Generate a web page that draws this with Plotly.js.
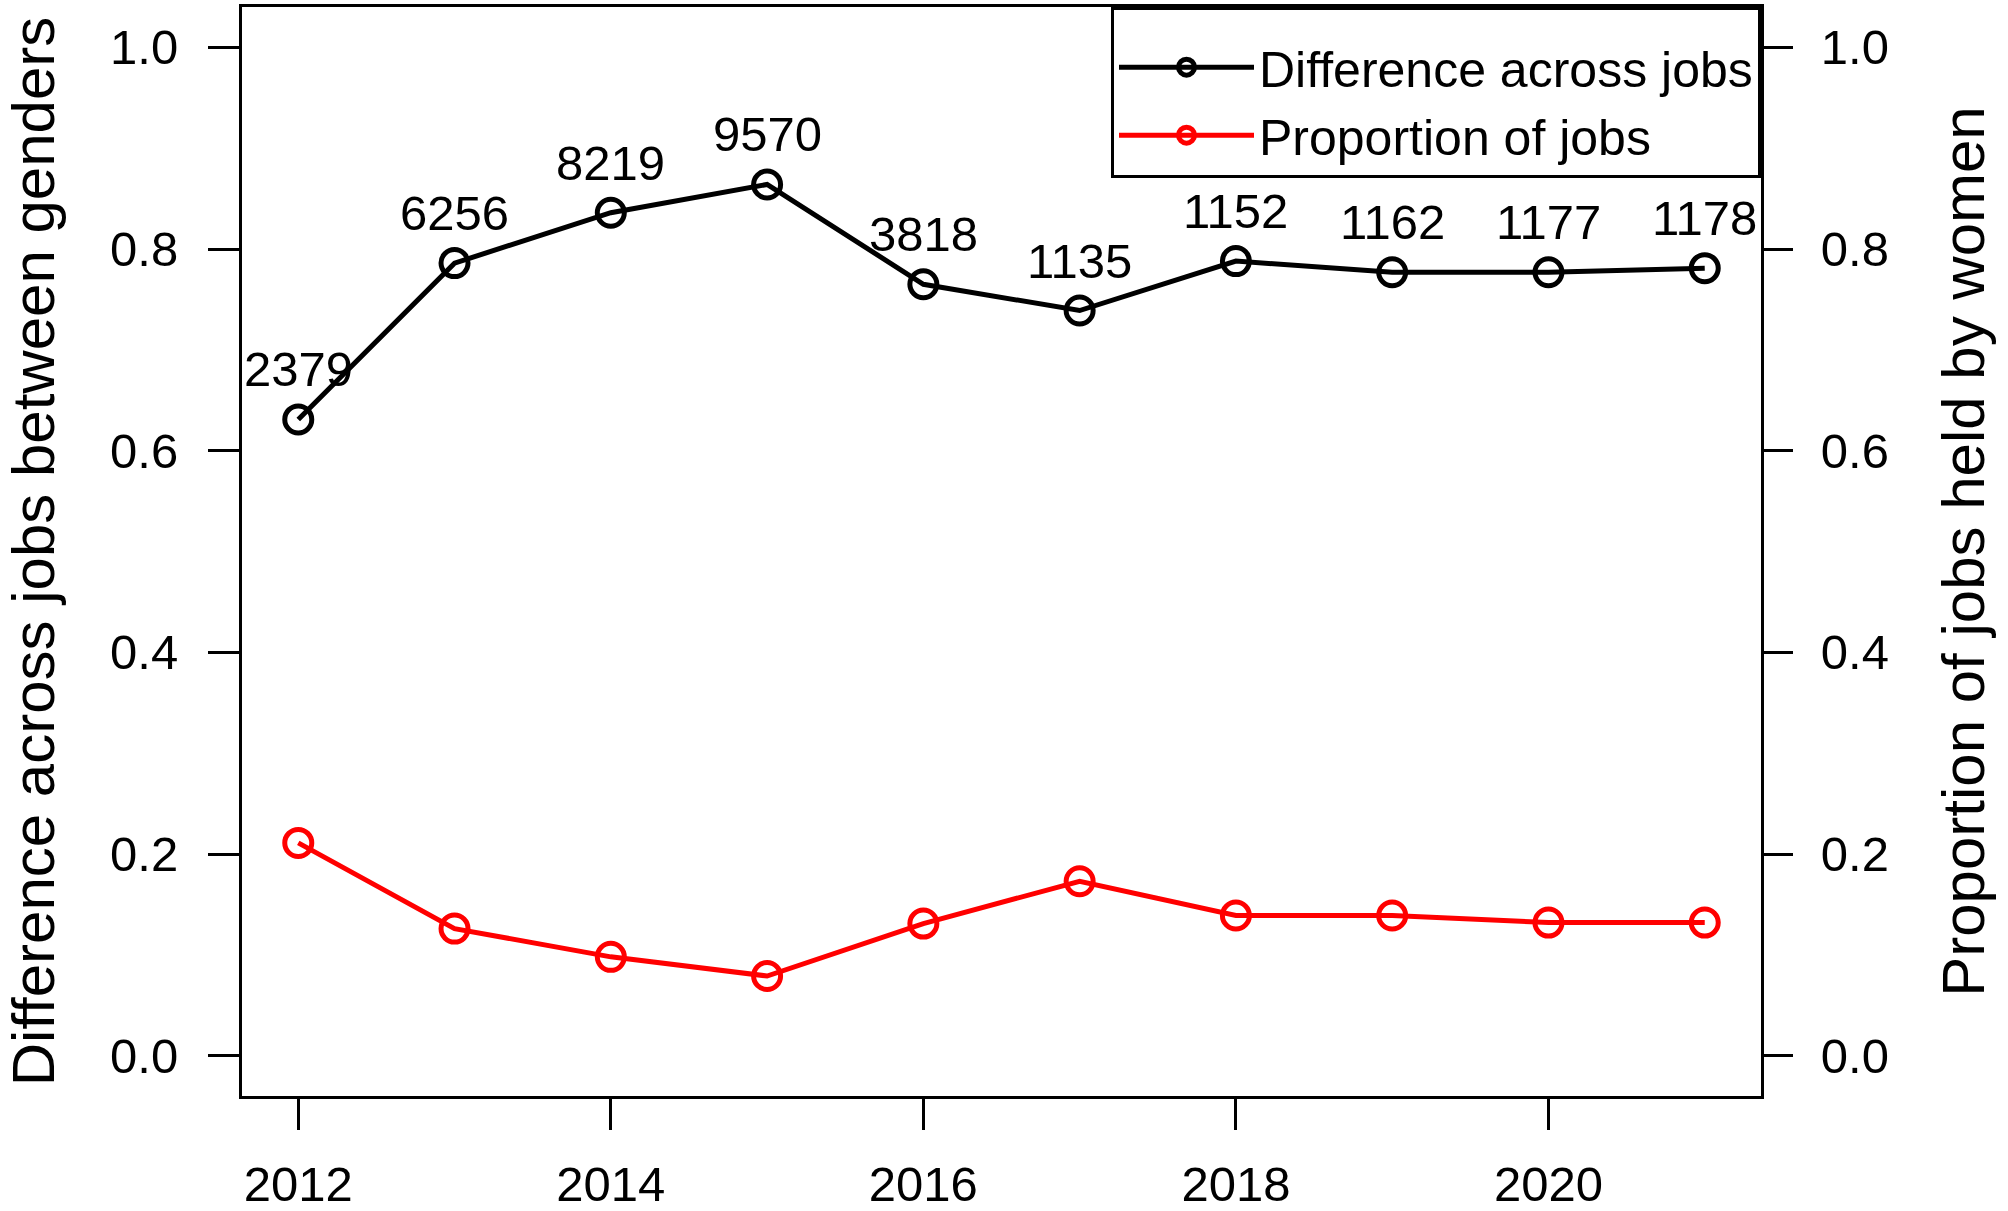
<!DOCTYPE html>
<html>
<head>
<meta charset="utf-8">
<script src="https://cdn.plot.ly/plotly-3.0.1.min.js"></script>
<style>
  html, body { margin: 0; padding: 0; background: #ffffff; }
  #chart { width: 2008px; height: 1211px; }
</style>
</head>
<body>
<div id="chart"></div>
<script>
// values
const years = [2012, 2013, 2014, 2015, 2016, 2017, 2018, 2019, 2020, 2021];
const diffAcrossJobs = [0.631, 0.786, 0.836, 0.864, 0.765, 0.739, 0.788, 0.777, 0.777, 0.781];
const propWomen = [0.211, 0.126, 0.098, 0.079, 0.131, 0.173, 0.139, 0.139, 0.132, 0.132];
const jobCounts = ['2379', '6256', '8219', '9570', '3818', '1135', '1152', '1162', '1177', '1178'];
const yTicks = [0, 0.2, 0.4, 0.6, 0.8, 1.0];
const xTicks = [2012, 2014, 2016, 2018, 2020];

const FONT = 'Liberation Sans, Arial, sans-serif';
const tickFont = { family: FONT, size: 49, color: '#000000' };

function lineTrace(name, y, color, axis) {
    return {
        x: years,
        y: y,
        name: name,
        yaxis: axis,
        type: 'scatter',
        mode: 'lines+markers',
        line: { color: color, width: 5 },
        marker: {
            symbol: 'circle-open',
            size: 27,
            color: color,
            line: { color: color, width: 5 }
        },
        cliponaxis: false
    };
}

const data = [
    lineTrace('Difference across jobs', diffAcrossJobs, '#000000', 'y'),
    lineTrace('Proportion of jobs', propWomen, '#ff0000', 'y2')
];

// count labels sit above the black points
const countLabels = jobCounts.map((label, i) => ({
    x: years[i],
    y: diffAcrossJobs[i],
    xref: 'x',
    yref: 'y',
    text: label,
    showarrow: false,
    yshift: 50,
    font: { family: FONT, size: 49, color: '#000000' }
}));

const yAxisBase = {
    range: [-0.04, 1.04],
    tickvals: yTicks,
    tickformat: '.1f',
    ticks: 'outside',
    ticklen: 31,
    tickwidth: 3,
    tickcolor: '#000000',
    tickfont: tickFont,
    showgrid: false,
    zeroline: false,
    automargin: false
};

const layout = {
    width: 2008,
    height: 1211,
    margin: { l: 242, r: 247, t: 7, b: 115 },
    paper_bgcolor: '#ffffff',
    plot_bgcolor: '#ffffff',
    font: { family: FONT, color: '#000000' },
    showlegend: true,
    legend: {
        x: 1,
        y: 1,
        xanchor: 'right',
        yanchor: 'top',
        bgcolor: '#ffffff',
        bordercolor: '#000000',
        borderwidth: 3,
        itemwidth: 135,
        title: { text: ' ', font: { family: FONT, size: 14 } },
        font: { family: FONT, size: 50, color: '#000000' }
    },
    xaxis: {
        range: [2011.64, 2021.36],
        tickvals: xTicks,
        ticktext: xTicks.map(String),
        ticks: 'outside',
        ticklen: 31,
        tickwidth: 3,
        tickcolor: '#000000',
        ticklabelstandoff: 12,
        tickfont: tickFont,
        showline: true,
        linecolor: '#000000',
        linewidth: 3,
        mirror: true,
        showgrid: false,
        zeroline: false,
        automargin: false
    },
    yaxis: Object.assign({}, yAxisBase, {
        ticklabelstandoff: 20,
        showline: true,
        linecolor: '#000000',
        linewidth: 3,
        mirror: true,
        title: {
            text: 'Difference across jobs between genders',
            standoff: 45,
            font: { family: FONT, size: 60, color: '#000000' }
        }
    }),
    yaxis2: Object.assign({}, yAxisBase, {
        overlaying: 'y',
        side: 'right',
        ticklabelstandoff: 18,
        showline: false,
        title: {
            text: 'Proportion of jobs held by women',
            standoff: 54,
            font: { family: FONT, size: 60, color: '#000000' }
        }
    }),
    annotations: countLabels
};

Plotly.newPlot('chart', data, layout, { staticPlot: true, displayModeBar: false });
</script>
</body>
</html>
